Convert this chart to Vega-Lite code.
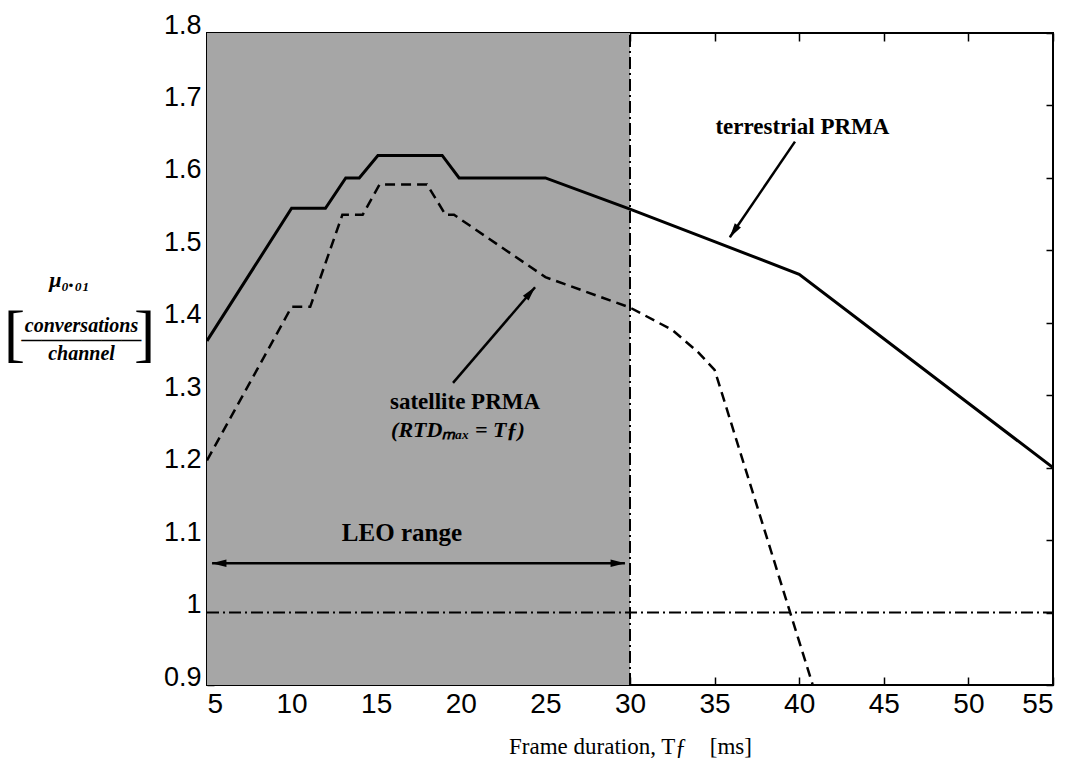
{
  "$schema": "https://vega.github.io/schema/vega-lite/v6.json",
  "width": 846,
  "height": 652,
  "autosize": {"type": "none"},
  "padding": {"left": 207, "top": 33, "right": 18, "bottom": 74},
  "background": "white",
  "config": {
    "view": {"stroke": "black", "strokeWidth": 2},
    "axis": {"grid": false, "domain": false, "tickColor": "black", "tickWidth": 1.5, "labelColor": "black", "titleColor": "black"}
  },
  "datasets": {
    "curves": [
      {"Tf": 5, "mu": 1.375, "series": "terrestrial"},
      {"Tf": 10, "mu": 1.558, "series": "terrestrial"},
      {"Tf": 12, "mu": 1.558, "series": "terrestrial"},
      {"Tf": 13.2, "mu": 1.6, "series": "terrestrial"},
      {"Tf": 14, "mu": 1.6, "series": "terrestrial"},
      {"Tf": 15.1, "mu": 1.631, "series": "terrestrial"},
      {"Tf": 18.9, "mu": 1.631, "series": "terrestrial"},
      {"Tf": 19.9, "mu": 1.6, "series": "terrestrial"},
      {"Tf": 25, "mu": 1.6, "series": "terrestrial"},
      {"Tf": 30, "mu": 1.557, "series": "terrestrial"},
      {"Tf": 35, "mu": 1.512, "series": "terrestrial"},
      {"Tf": 40, "mu": 1.467, "series": "terrestrial"},
      {"Tf": 45, "mu": 1.378, "series": "terrestrial"},
      {"Tf": 50, "mu": 1.289, "series": "terrestrial"},
      {"Tf": 55, "mu": 1.2, "series": "terrestrial"},
      {"Tf": 5, "mu": 1.21, "series": "satellite"},
      {"Tf": 10, "mu": 1.422, "series": "satellite"},
      {"Tf": 11.1, "mu": 1.422, "series": "satellite"},
      {"Tf": 13, "mu": 1.549, "series": "satellite"},
      {"Tf": 14.2, "mu": 1.549, "series": "satellite"},
      {"Tf": 15.2, "mu": 1.591, "series": "satellite"},
      {"Tf": 18, "mu": 1.591, "series": "satellite"},
      {"Tf": 19.1, "mu": 1.549, "series": "satellite"},
      {"Tf": 19.6, "mu": 1.549, "series": "satellite"},
      {"Tf": 25, "mu": 1.463, "series": "satellite"},
      {"Tf": 30, "mu": 1.421, "series": "satellite"},
      {"Tf": 32.5, "mu": 1.39, "series": "satellite"},
      {"Tf": 34, "mu": 1.36, "series": "satellite"},
      {"Tf": 35, "mu": 1.335, "series": "satellite"},
      {"Tf": 40.8, "mu": 0.9, "series": "satellite"}
    ],
    "arrows": [
      {"arrow": "terrestrial", "x": 39.75, "y": 1.65, "x2": 35.9, "y2": 1.518},
      {"arrow": "satellite", "x": 19.54, "y": 1.317, "x2": 24.39, "y2": 1.449},
      {"arrow": "leo", "x": 5.3, "y": 1.068, "x2": 29.7, "y2": 1.068}
    ],
    "heads": [
      {"head": "terrestrial", "x": 36.13, "y": 1.526},
      {"head": "satellite", "x": 24.12, "y": 1.442},
      {"head": "leoLeft", "x": 5.71, "y": 1.068},
      {"head": "leoRight", "x": 29.29, "y": 1.068}
    ],
    "notes": [
      {"note": "terrestrial PRMA", "kind": "plain", "x": 40.19, "y": 1.67},
      {"note": "satellite PRMA", "kind": "plain", "x": 20.25, "y": 1.29},
      {"note": "(RTDₘₐₓ = Tƒ)", "kind": "italic", "x": 19.83, "y": 1.252},
      {"note": "LEO range", "kind": "leo", "x": 16.52, "y": 1.11}
    ]
  },
  "layer": [
    {
      "data": {"values": [{"start": 5, "end": 30}]},
      "mark": {"type": "rect", "fill": "#a6a6a6"},
      "encoding": {
        "x": {"field": "start", "type": "quantitative", "scale": {"domain": [5, 55], "nice": false, "zero": false}, "axis": null},
        "x2": {"field": "end"},
        "y": {"datum": 0.9, "type": "quantitative", "scale": {"domain": [0.9, 1.8], "nice": false, "zero": false}, "axis": null},
        "y2": {"datum": 1.8}
      }
    },
    {
      "data": {"values": [{"at": 30}]},
      "mark": {"type": "rule", "stroke": "black", "strokeWidth": 2, "strokeDash": [12, 4, 2, 4]},
      "encoding": {
        "x": {"field": "at", "type": "quantitative", "axis": null},
        "y": {"datum": 0.9, "type": "quantitative", "axis": null},
        "y2": {"datum": 1.8}
      }
    },
    {
      "data": {"values": [{"level": 1.0}]},
      "mark": {"type": "rule", "stroke": "black", "strokeWidth": 2, "strokeDash": [12, 4, 2, 4]},
      "encoding": {
        "y": {"field": "level", "type": "quantitative", "axis": {
          "orient": "right", "labels": false, "tickSize": -7, "values": [0.9, 1.0, 1.1, 1.2, 1.3, 1.4, 1.5, 1.6, 1.7, 1.8],
          "title": ["conversations", "——————", "channel"],
          "titleAngle": 0, "titleX": -972, "titleY": 282, "titleAlign": "center", "titleBaseline": "top",
          "titleFont": "Liberation Serif", "titleFontSize": 20, "titleFontStyle": "italic", "titleFontWeight": "bold", "titleLineHeight": 14
        }},
        "x": {"datum": 5, "type": "quantitative", "axis": {
          "orient": "top", "labels": false, "tickSize": -8, "values": [5, 10, 15, 20, 25, 30, 35, 40, 45, 50, 55],
          "title": "[\u2002\u2002\u2002\u2009]",
          "titleX": -128, "titleY": 301, "titleAlign": "center", "titleBaseline": "middle",
          "titleFont": "Liberation Serif", "titleFontSize": 64, "titleFontWeight": "normal"
        }},
        "x2": {"datum": 55}
      }
    },
    {
      "data": {"name": "curves"},
      "transform": [{"filter": "datum.series === 'terrestrial'"}],
      "mark": {"type": "line", "stroke": "black", "strokeWidth": 3, "clip": true},
      "encoding": {
        "x": {"field": "Tf", "type": "quantitative", "axis": {
          "orient": "bottom", "values": [5, 10, 15, 20, 25, 30, 35, 40, 45, 50, 55], "tickSize": -8,
          "labelFont": "Liberation Sans", "labelFontSize": 28, "labelPadding": 13,
          "title": "Frame duration, Tƒ\u2003[ms]", "titleFont": "Liberation Serif", "titleFontSize": 23, "titleFontWeight": "normal", "titleY": 50, "titleBaseline": "top"
        }},
        "y": {"field": "mu", "type": "quantitative", "axis": {
          "orient": "left", "values": [0.9, 1.0, 1.1, 1.2, 1.3, 1.4, 1.5, 1.6, 1.7, 1.8], "format": ".1~f", "tickSize": -7,
          "labelFont": "Liberation Sans", "labelFontSize": 27, "labelBaseline": "alphabetic", "labelPadding": 13,
          "title": "μ₀.₀₁", "titleAngle": 0, "titleX": -138, "titleY": 246, "titleAlign": "center", "titleBaseline": "middle",
          "titleFont": "Liberation Serif", "titleFontSize": 22, "titleFontStyle": "italic", "titleFontWeight": "bold"
        }}
      }
    },
    {
      "data": {"name": "curves"},
      "transform": [{"filter": "datum.series === 'satellite'"}],
      "mark": {"type": "line", "stroke": "black", "strokeWidth": 2.5, "strokeDash": [10, 6], "clip": true},
      "encoding": {
        "x": {"field": "Tf", "type": "quantitative", "axis": null},
        "y": {"field": "mu", "type": "quantitative", "axis": null}
      }
    },
    {
      "data": {"name": "arrows"},
      "mark": {"type": "rule", "stroke": "black", "strokeWidth": 2.5},
      "encoding": {
        "x": {"field": "x", "type": "quantitative", "axis": null},
        "y": {"field": "y", "type": "quantitative", "axis": null},
        "x2": {"field": "x2"},
        "y2": {"field": "y2"}
      }
    },
    {
      "data": {"name": "heads"},
      "transform": [{"filter": "datum.head === 'terrestrial'"}],
      "mark": {"type": "point", "shape": "M0,-1L0.5,1L-0.5,1Z", "filled": true, "color": "black", "size": 220, "angle": 214, "opacity": 1},
      "encoding": {"x": {"field": "x", "type": "quantitative", "axis": null}, "y": {"field": "y", "type": "quantitative", "axis": null}}
    },
    {
      "data": {"name": "heads"},
      "transform": [{"filter": "datum.head === 'satellite'"}],
      "mark": {"type": "point", "shape": "M0,-1L0.5,1L-0.5,1Z", "filled": true, "color": "black", "size": 220, "angle": 40, "opacity": 1},
      "encoding": {"x": {"field": "x", "type": "quantitative", "axis": null}, "y": {"field": "y", "type": "quantitative", "axis": null}}
    },
    {
      "data": {"name": "heads"},
      "transform": [{"filter": "datum.head === 'leoLeft'"}],
      "mark": {"type": "point", "shape": "M0,-1L0.5,1L-0.5,1Z", "filled": true, "color": "black", "size": 220, "angle": 270, "opacity": 1},
      "encoding": {"x": {"field": "x", "type": "quantitative", "axis": null}, "y": {"field": "y", "type": "quantitative", "axis": null}}
    },
    {
      "data": {"name": "heads"},
      "transform": [{"filter": "datum.head === 'leoRight'"}],
      "mark": {"type": "point", "shape": "M0,-1L0.5,1L-0.5,1Z", "filled": true, "color": "black", "size": 220, "angle": 90, "opacity": 1},
      "encoding": {"x": {"field": "x", "type": "quantitative", "axis": null}, "y": {"field": "y", "type": "quantitative", "axis": null}}
    },
    {
      "data": {"name": "notes"},
      "transform": [{"filter": "datum.kind === 'plain'"}],
      "mark": {"type": "text", "font": "Liberation Serif", "fontSize": 23, "fontWeight": "bold", "color": "black", "align": "center", "baseline": "middle"},
      "encoding": {"x": {"field": "x", "type": "quantitative", "axis": null}, "y": {"field": "y", "type": "quantitative", "axis": null}, "text": {"field": "note"}}
    },
    {
      "data": {"name": "notes"},
      "transform": [{"filter": "datum.kind === 'italic'"}],
      "mark": {"type": "text", "font": "Liberation Serif", "fontSize": 22, "fontWeight": "bold", "fontStyle": "italic", "color": "black", "align": "center", "baseline": "middle"},
      "encoding": {"x": {"field": "x", "type": "quantitative", "axis": null}, "y": {"field": "y", "type": "quantitative", "axis": null}, "text": {"field": "note"}}
    },
    {
      "data": {"name": "notes"},
      "transform": [{"filter": "datum.kind === 'leo'"}],
      "mark": {"type": "text", "font": "Liberation Serif", "fontSize": 25, "fontWeight": "bold", "color": "black", "align": "center", "baseline": "middle"},
      "encoding": {"x": {"field": "x", "type": "quantitative", "axis": null}, "y": {"field": "y", "type": "quantitative", "axis": null}, "text": {"field": "note"}}
    }
  ],
  "resolve": {"axis": {"x": "independent", "y": "independent"}}
}
